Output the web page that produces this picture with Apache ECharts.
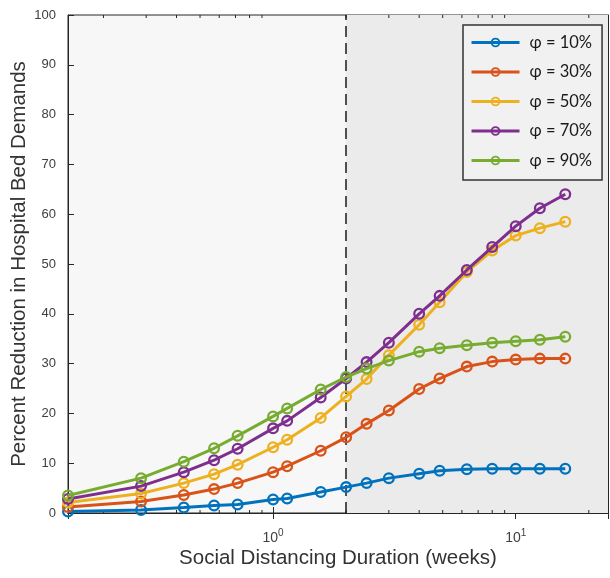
<!DOCTYPE html>
<html>
<head>
<meta charset="utf-8">
<script src="https://cdn.jsdelivr.net/npm/echarts@6/dist/echarts.min.js"></script>
<style>
  html, body { margin: 0; padding: 0; background: #ffffff; }
  #chart { width: 610px; height: 578px; }
</style>
</head>
<body>
<div id="chart"></div>
<script>
// Social distancing duration (weeks) — 1,2,3,4,5,7,8,11,14,17,21,28,34,44,56,70,88,112 days
const durationsWeeks = [0.142857, 0.2857, 0.4286, 0.5714, 0.7143, 1, 1.1429, 1.5714, 2, 2.4286, 3, 4, 4.857, 6.286, 8, 10, 12.571, 16];

const seriesNames = ['φ = 10%', 'φ = 30%', 'φ = 50%', 'φ = 70%', 'φ = 90%'];
const phi10 = [0.3, 0.6, 1.1, 1.5, 1.7, 2.7, 2.9, 4.2, 5.2, 6.0, 7.0, 7.9, 8.5, 8.8, 8.9, 8.9, 8.9, 8.9];
const phi30 = [1.2, 2.3, 3.6, 4.8, 6.0, 8.2, 9.4, 12.5, 15.2, 17.9, 20.6, 24.9, 27.0, 29.4, 30.4, 30.8, 31.0, 31.0];
const phi50 = [2.1, 3.9, 6.0, 7.8, 9.7, 13.2, 14.7, 19.1, 23.4, 26.9, 31.7, 37.8, 42.3, 48.4, 52.7, 55.7, 57.2, 58.5];
const phi70 = [2.8, 5.4, 8.2, 10.6, 12.9, 17.0, 18.5, 23.2, 27.0, 30.3, 34.2, 40.0, 43.6, 48.8, 53.4, 57.6, 61.2, 64.0];
const phi90 = [3.5, 7.0, 10.3, 13.0, 15.5, 19.4, 21.0, 24.8, 27.3, 29.0, 30.6, 32.4, 33.1, 33.7, 34.2, 34.5, 34.8, 35.4];

const xMin = 0.142857;
const xMax = 24;
const cutoffWeeks = 2;
const minorTickValues = [0.2, 0.3, 0.4, 0.5, 0.6, 0.7, 0.8, 0.9, 2, 3, 4, 5, 6, 7, 8, 9, 20];

const colors = ['#0072BD', '#D95319', '#EDB120', '#7E2F8E', '#77AC30'];
const allValues = [phi10, phi30, phi50, phi70, phi90];

// hollow ring marker (line shows through)
const ring = 'path://M0,-5.5A5.5,5.5 0 1,1 0,5.5A5.5,5.5 0 1,1 0,-5.5ZM0,-3.4A3.4,3.4 0 1,0 0,3.4A3.4,3.4 0 1,0 0,-3.4Z';

const axisColor = '#262626';
const labelColor = '#404040';
const font = 'Liberation Sans, Arial, sans-serif';

const chart = echarts.init(document.getElementById('chart'), null, { renderer: 'canvas' });

const lineSeries = seriesNames.map((name, i) => ({
  name: name,
  type: 'line',
  data: durationsWeeks.map((x, j) => [x, allValues[i][j]]),
  symbol: ring,
  symbolSize: 12,
  symbolKeepAspect: true,
  showAllSymbol: true,
  clip: false,
  color: colors[i],
  lineStyle: { width: 3, color: colors[i] },
  itemStyle: { color: colors[i] },
  z: 5 + i,
  animation: false
}));

const option = {
  animation: false,
  backgroundColor: '#ffffff',
  grid: {
    left: 68, top: 15, right: 2, bottom: 65,
    containLabel: false,
    outerBoundsMode: 'none',
    show: true,
    backgroundColor: '#f7f7f7',
    borderColor: axisColor,
    borderWidth: 1
  },
  legend: {
    data: seriesNames,
    orient: 'vertical',
    left: 463,
    top: 25,
    width: 143,
    padding: [9, 10, 11, 7],
    itemGap: 12.5,
    itemWidth: 48,
    itemHeight: 12,
    lineStyle: { width: 3 },
    backgroundColor: 'rgba(242,242,242,0.9)',
    borderColor: '#333333',
    borderWidth: 1.5,
    textStyle: { fontFamily: 'Lato, Open Sans, sans-serif', fontSize: 16.5, color: '#1a1a1a', padding: [0, 0, 0, 5] }
  },
  xAxis: [{
    type: 'log',
    logBase: 10,
    min: xMin,
    max: xMax,
    position: 'bottom',
    name: 'Social Distancing Duration (weeks)',
    nameLocation: 'middle',
    nameGap: 35,
    nameMoveOverlap: false,
    nameTextStyle: { fontFamily: font, fontSize: 20.5, color: '#333333' },
    axisLine: { show: true, lineStyle: { color: axisColor, width: 1 } },
    axisTick: { show: true, inside: true, length: 6, lineStyle: { color: axisColor } },
    splitLine: { show: false },
    axisLabel: {
      showMinLabel: false,
      showMaxLabel: false,
      margin: 15,
      fontFamily: font,
      fontSize: 14,
      color: labelColor,
      formatter: function (v) {
        if (Math.abs(v - 1) < 1e-6) return '10{sup|0}';
        if (Math.abs(v - 10) < 1e-6) return '10{sup|1}';
        return '';
      },
      rich: {
        sup: { fontSize: 10, color: labelColor, fontFamily: font, verticalAlign: 'top', lineHeight: 20 }
      }
    }
  }, {
    type: 'log',
    logBase: 10,
    min: xMin,
    max: xMax,
    position: 'top',
    axisLine: { show: true, lineStyle: { color: axisColor, width: 1 } },
    axisTick: { show: true, inside: true, length: 6, lineStyle: { color: axisColor } },
    axisLabel: { show: false },
    splitLine: { show: false }
  }],
  yAxis: [{
    type: 'value',
    min: 0,
    max: 100,
    interval: 10,
    name: 'Percent Reduction in Hospital Bed Demands',
    nameLocation: 'middle',
    nameGap: 38,
    nameMoveOverlap: false,
    nameTextStyle: { fontFamily: font, fontSize: 20.5, color: '#333333' },
    axisLine: { show: true, lineStyle: { color: axisColor, width: 1 } },
    axisTick: { show: true, inside: true, length: 6, lineStyle: { color: axisColor } },
    splitLine: { show: false },
    axisLabel: { margin: 12, fontFamily: font, fontSize: 13, color: labelColor }
  }, {
    type: 'value',
    min: 0,
    max: 100,
    interval: 10,
    position: 'right',
    axisLine: { show: true, lineStyle: { color: axisColor, width: 1 } },
    axisTick: { show: true, inside: true, length: 6, lineStyle: { color: axisColor } },
    axisLabel: { show: false },
    splitLine: { show: false }
  }],
  series: [
    {
      name: 'background',
      type: 'line',
      data: [],
      silent: true,
      z: 1,
      markArea: {
        silent: true,
        itemStyle: { color: '#ebebeb' },
        data: [[{ xAxis: cutoffWeeks }, { xAxis: xMax }]]
      },
      markLine: {
        silent: true,
        symbol: 'none',
        label: { show: false },
        lineStyle: { type: [11, 6], color: '#1a1a1a', width: 1.5 },
        data: [{ xAxis: cutoffWeeks }]
      }
    },
    {
      name: 'minorTicks',
      type: 'custom',
      silent: true,
      z: 3,
      data: minorTickValues.map(v => [v]),
      encode: { x: 0 },
      renderItem: function (params, api) {
        const x = api.coord([api.value(0), 0])[0];
        const yb = api.coord([1, 0])[1];
        const yt = api.coord([1, 100])[1];
        const st = { stroke: axisColor, lineWidth: 1 };
        return {
          type: 'group',
          children: [
            { type: 'line', shape: { x1: x, y1: yb, x2: x, y2: yb - 3 }, style: st },
            { type: 'line', shape: { x1: x, y1: yt, x2: x, y2: yt + 3 }, style: st }
          ]
        };
      }
    }
  ].concat(lineSeries)
};

chart.setOption(option);
</script>
</body>
</html>
